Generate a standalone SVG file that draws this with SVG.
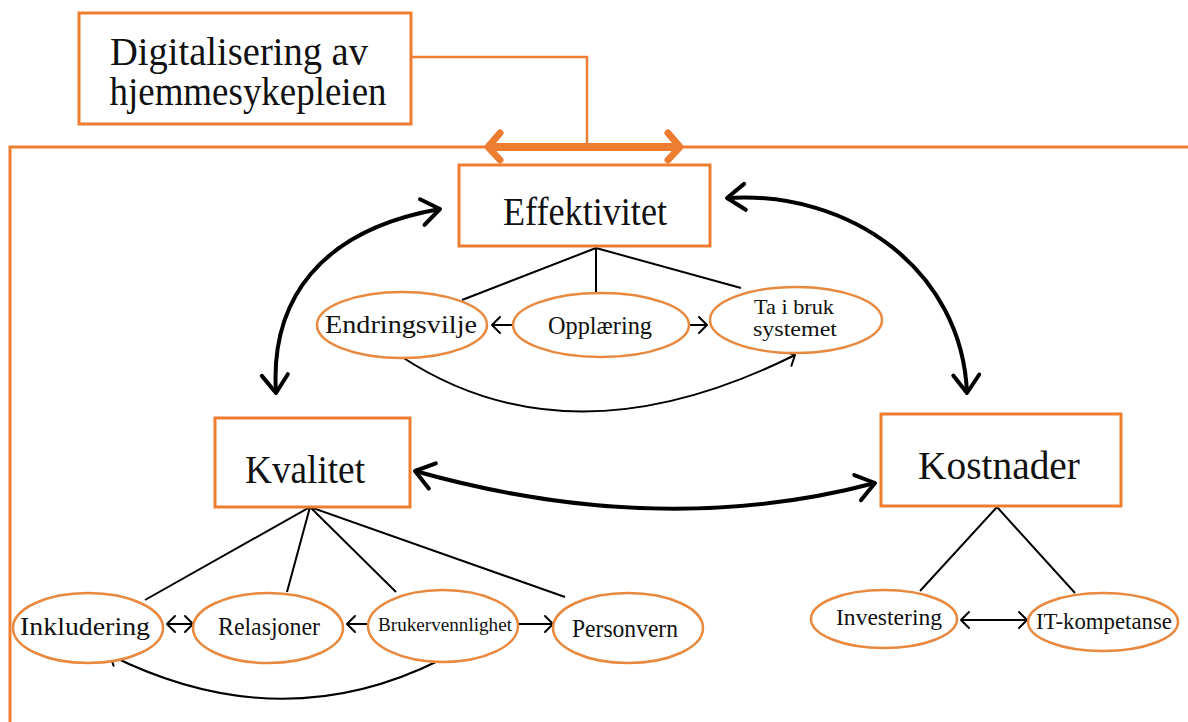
<svg xmlns="http://www.w3.org/2000/svg" width="1188" height="722" viewBox="0 0 1188 722">
<style>
.box{fill:#fff;stroke:#ED7D31;stroke-width:3}
.ell{fill:#fff;stroke:#E8893F;stroke-width:2.5}
.t{font-family:"Liberation Serif","Times New Roman",serif;fill:#111;text-anchor:middle}
.big{stroke:#000;stroke-width:4;fill:none}
.thin{stroke:#000;stroke-width:2;fill:none}
.sm{stroke:#000;stroke-width:2;fill:none}
</style>
<defs>
<marker id="hb" markerUnits="userSpaceOnUse" viewBox="-24 -16 28 32" markerWidth="28" markerHeight="32" refX="0" refY="0" orient="auto-start-reverse">
<path d="M -18 -13 L 0 0 L -18 13" fill="none" stroke="#000" stroke-width="4" stroke-linecap="round" stroke-linejoin="round"/>
</marker>
<marker id="hs" markerUnits="userSpaceOnUse" viewBox="-12 -10 14 20" markerWidth="14" markerHeight="20" refX="0" refY="0" orient="auto-start-reverse">
<path d="M -8 -8 L 0 0 L -8 8" fill="none" stroke="#000" stroke-width="2" stroke-linecap="round" stroke-linejoin="round"/>
</marker>
</defs>
<rect width="1188" height="722" fill="#fff"/>

<g id="frame">
<path d="M 10 722 L 10 147 L 1188 147" fill="none" stroke="#ED7D31" stroke-width="3"/>
<path d="M 411 57 L 587 57 L 587 147" fill="none" stroke="#ED7D31" stroke-width="2.5"/>
</g>

<g id="connectors">
<path d="M 490 147 L 678 147" stroke="#ED7D31" stroke-width="8" fill="none"/>
<path d="M 500 133 L 488 147 L 500 160" stroke="#ED7D31" stroke-width="7" fill="none" stroke-linecap="round" stroke-linejoin="round"/>
<path d="M 668 133 L 680 147 L 668 160" stroke="#ED7D31" stroke-width="7" fill="none" stroke-linecap="round" stroke-linejoin="round"/>

<path class="big" d="M 276 393 C 270 300, 320 230, 440 209" marker-start="url(#hb)" marker-end="url(#hb)"/>
<path class="big" d="M 727 198 C 850 190, 962 270, 967 393" marker-start="url(#hb)" marker-end="url(#hb)"/>
<path class="big" d="M 415 471 Q 660 540 875 483" marker-start="url(#hb)" marker-end="url(#hb)"/>

<path class="thin" d="M 596 248 L 462 300 M 596 248 L 596 292 M 596 248 L 741 288"/>
<path class="sm" d="M 513 325 L 492 325" marker-end="url(#hs)"/>
<path class="sm" d="M 690 325 L 707 325" marker-end="url(#hs)"/>
<path class="sm" d="M 402 357 Q 570 467 795 355" marker-end="url(#hs)"/>

<path class="thin" d="M 310 507 L 145 600 M 310 507 L 287 592 M 310 507 L 396 592 M 310 507 L 565 597"/>
<path class="sm" d="M 167 624 L 193 624" marker-start="url(#hs)" marker-end="url(#hs)"/>
<path class="sm" d="M 368 624 L 347 624" marker-end="url(#hs)"/>
<path class="sm" d="M 518 624 L 553 624" marker-end="url(#hs)"/>
<path class="sm" d="M 440 660 Q 280 740 110 655" marker-end="url(#hs)"/>

<path class="thin" d="M 997 507 L 920 591 M 997 507 L 1075 593"/>
<path class="sm" d="M 961 620 L 1027 620" marker-start="url(#hs)" marker-end="url(#hs)"/>
</g>

<g id="digitalisering">
<rect class="box" x="79" y="13" width="332" height="111"/>
<text class="t" x="239" y="65" font-size="39" textLength="258" lengthAdjust="spacingAndGlyphs">Digitalisering av</text>
<text class="t" x="248" y="105" font-size="39" textLength="277" lengthAdjust="spacingAndGlyphs">hjemmesykepleien</text>
</g>

<g id="effektivitet">
<rect class="box" x="459" y="165" width="251" height="81"/>
<text class="t" x="585" y="225" font-size="40" textLength="164" lengthAdjust="spacingAndGlyphs">Effektivitet</text>
</g>

<g id="kvalitet">
<rect class="box" x="215" y="418" width="195" height="89"/>
<text class="t" x="305" y="483" font-size="40" textLength="120" lengthAdjust="spacingAndGlyphs">Kvalitet</text>
</g>

<g id="kostnader">
<rect class="box" x="881" y="414" width="240" height="92"/>
<text class="t" x="999" y="479" font-size="40" textLength="162" lengthAdjust="spacingAndGlyphs">Kostnader</text>
</g>

<g id="endringsvilje">
<ellipse class="ell" cx="402" cy="325" rx="85" ry="33"/>
<text class="t" x="401" y="333" font-size="25" textLength="152" lengthAdjust="spacingAndGlyphs">Endringsvilje</text>
</g>
<g id="opplaering">
<ellipse class="ell" cx="601" cy="325" rx="88" ry="32"/>
<text class="t" x="600" y="334" font-size="25" textLength="104" lengthAdjust="spacingAndGlyphs">Opplæring</text>
</g>
<g id="taibruk">
<ellipse class="ell" cx="796" cy="320" rx="86" ry="33"/>
<text class="t" x="794" y="314" font-size="21" textLength="80" lengthAdjust="spacingAndGlyphs">Ta i bruk</text>
<text class="t" x="795" y="336" font-size="21" textLength="84" lengthAdjust="spacingAndGlyphs">systemet</text>
</g>

<g id="inkludering">
<ellipse class="ell" cx="88" cy="628" rx="75" ry="35"/>
<text class="t" x="85" y="635" font-size="25" textLength="130" lengthAdjust="spacingAndGlyphs">Inkludering</text>
</g>
<g id="relasjoner">
<ellipse class="ell" cx="268" cy="628" rx="75" ry="35"/>
<text class="t" x="269" y="635" font-size="25" textLength="102" lengthAdjust="spacingAndGlyphs">Relasjoner</text>
</g>
<g id="brukervennlighet">
<ellipse class="ell" cx="443" cy="626" rx="75" ry="36"/>
<text class="t" x="445" y="631" font-size="19" textLength="134" lengthAdjust="spacingAndGlyphs">Brukervennlighet</text>
</g>
<g id="personvern">
<ellipse class="ell" cx="628" cy="628" rx="75" ry="35"/>
<text class="t" x="625" y="637" font-size="25" textLength="106" lengthAdjust="spacingAndGlyphs">Personvern</text>
</g>

<g id="investering">
<ellipse class="ell" cx="884" cy="619" rx="73" ry="29"/>
<text class="t" x="889" y="625" font-size="23" textLength="106" lengthAdjust="spacingAndGlyphs">Investering</text>
</g>
<g id="itkompetanse">
<ellipse class="ell" cx="1103" cy="622" rx="75" ry="29"/>
<text class="t" x="1104" y="629" font-size="23" textLength="136" lengthAdjust="spacingAndGlyphs">IT-kompetanse</text>
</g>
</svg>
